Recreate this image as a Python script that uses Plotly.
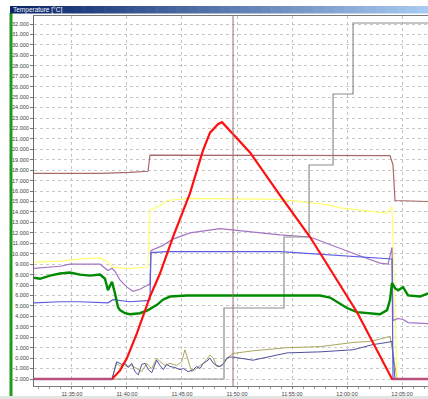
import pandas as pd
import plotly.graph_objects as go

# ---- data (time = minutes after 11:35:00) ----
BASE = pd.Timestamp("2024-01-01 11:35:00")

step_t = [-3.45, 13.82, 19.27, 21.55, 23.73, 25.55, 32.36]
step_v = [-2.0, 4.8, 11.6, 18.5, 25.3, 32.1, 32.1]

red_t = [-3.45, 3.64, 4.36, 5.0, 5.91, 6.64, 7.09, 8.0, 9.18, 10.73, 11.91, 12.55, 13.27, 13.64,
         14.82, 16.18, 18.91, 21.64, 25.91, 27.73, 29.09, 32.36]
red_v = [-2.0, -2.0, -1.2, 0.0, 2.4, 4.6, 5.9, 8.1, 11.6, 15.8, 19.9, 21.6, 22.4, 22.6,
         21.3, 19.7, 15.6, 11.6, 4.4, 0.8, -2.0, -2.0]

brown_t = [-3.45, 2.55, 5.27, 6.91, 7.09, 28.91, 29.18, 29.36, 32.36]
brown_v = [17.7, 17.7, 17.8, 17.9, 19.45, 19.4, 18.5, 15.1, 15.0]

yellow_t = [-3.45, -1.09, 0.73, 2.55, 3.27, 3.73, 5.09, 6.91, 7.09, 8.0, 8.64, 10.73, 18.91, 23.18,
            24.36, 28.64, 29.09, 29.18, 29.55, 32.36]
yellow_v = [9.2, 9.3, 9.5, 9.6, 9.2, 8.7, 8.6, 8.7, 14.2, 14.6, 15.1, 15.3, 15.2, 14.7,
            14.4, 13.9, 14.5, 11.0, -2.0, -2.0]

purple_t = [-3.45, -1.09, -0.18, 2.55, 3.27, 3.64, 3.91, 4.36, 5.0, 5.55, 6.18, 6.82, 7.09, 7.18,
            8.27, 9.18, 10.73, 13.45, 15.91, 18.91, 21.64, 24.09, 25.91, 28.0, 28.73, 29.09,
            29.18, 29.64, 30.09, 30.55, 31.64, 32.36]
purple_v = [8.6, 8.8, 9.0, 9.0, 8.4, 8.6, 8.3, 7.5, 6.8, 6.4, 6.6, 6.9, 7.1, 10.3,
            10.8, 11.4, 12.0, 12.4, 12.1, 11.8, 11.6, 10.6, 9.9, 9.1, 9.0, 10.6,
            3.6, 3.8, 3.7, 3.4, 3.3, 3.3]

blue_t = [-3.45, -1.09, 0.73, 3.27, 3.73, 5.27, 6.82, 7.09, 7.18, 8.64, 18.91, 23.45, 26.45,
          28.64, 29.09, 29.18, 32.36]
blue_v = [5.3, 5.4, 5.4, 5.3, 5.6, 5.4, 5.5, 5.6, 10.1, 10.2, 10.2, 9.9, 9.7,
          9.6, 9.5, -2.0, -2.0]

green_t = [-3.45, -2.91, -2.0, -1.09, -0.18, 0.73, 1.64, 2.55, 3.0, 3.18, 3.27, 3.45, 3.64,
           3.91, 4.18, 4.36, 4.82, 5.27, 6.18, 6.91, 7.73, 8.27, 8.91, 10.45, 18.91, 22.55,
           23.45, 24.18, 25.0, 25.91, 27.36, 28.0, 28.64, 28.91, 29.09, 29.36, 29.64, 30.09,
           30.55, 31.64, 32.36]
green_v = [7.7, 7.6, 7.9, 8.1, 8.2, 8.0, 7.9, 8.0, 7.6, 6.8, 6.5, 6.9, 7.3,
           6.2, 4.9, 4.6, 4.3, 4.2, 4.3, 4.6, 5.1, 5.6, 5.9, 6.0, 6.0, 6.0,
           5.8, 5.3, 4.8, 4.4, 4.3, 4.2, 4.6, 5.6, 7.2, 6.7, 6.5, 6.8,
           6.0, 5.9, 6.2]

navy_t = [-3.45, 3.64, 4.06, 4.52, 4.82, 5.12, 5.43, 5.73, 6.03, 6.34, 6.64, 6.94, 7.25, 7.70,
          8.0, 8.30, 8.61, 8.91, 9.36, 9.82, 10.12, 10.57, 11.03, 11.34, 11.64, 11.94, 12.25,
          12.55, 12.85, 13.15, 13.45, 13.75, 14.06, 14.36, 14.66, 16.45, 19.55, 22.55, 25.55,
          27.36, 28.64, 29.09, 29.36, 32.36]
navy_v = [-2.0, -2.0, -0.35, -0.6, -0.5, -0.9, -0.5, -1.3, -1.6, -0.6, -0.5, -1.1, -1.4, -0.2,
          -0.7, -1.1, -0.6, -0.8, -0.9, -1.1, -1.0, -1.3, -1.1, -0.8, -1.0, -0.5, -0.3,
          0.0, -0.5, -0.7, -0.8, -0.6, 0.0, 0.1, 0.1, -0.2, 0.5, 0.6, 0.8,
          1.3, 1.5, 1.6, -2.0, -2.0]

olive_t = [-3.45, 3.64, 4.06, 4.36, 4.66, 4.97, 5.43, 5.88, 6.34, 6.79, 7.25, 7.70, 8.0, 8.45,
           8.91, 9.52, 9.97, 10.27, 10.57, 10.88, 11.18, 11.64, 12.09, 12.55, 12.85, 13.15,
           13.45, 13.91, 14.21, 14.66, 16.45, 19.55, 22.55, 25.55, 27.09, 28.64, 28.91, 29.55,
           32.36]
olive_v = [-2.0, -2.0, -0.5, -0.8, -0.5, -0.8, -0.7, -1.0, -1.3, -0.5, -1.0, 0.0, -0.35, -0.7,
           -0.5, -0.7, -0.35, 0.8, -0.2, -1.3, -1.1, -0.7, -0.35, 0.3, 0.0, -0.8,
           -0.8, -0.35, 0.1, 0.45, 0.7, 1.0, 1.1, 1.5, 1.6, 2.0, 2.1, -2.0,
           -2.0]

mauve_t = [-3.45, 3.64, None, 29.18, 32.36]
mauve_v = [-2.0, -2.0, None, -2.0, -2.0]

cursor_t = 14.64

y_ticks = list(range(-2, 33))
x_ticks = [0, 5, 10, 15, 20, 25, 30]
x_range = [-3.45, 32.36]
y_range = [-2.67, 32.77]


def tt(arr):
    return [None if a is None else BASE + pd.Timedelta(minutes=a) for a in arr]


fig = go.Figure()


def add(t, v, color, width, shape="linear"):
    fig.add_trace(go.Scatter(x=tt(t), y=v, mode="lines", connectgaps=False,
                             line=dict(color=color, width=width, shape=shape),
                             hoverinfo="skip", showlegend=False))


add(olive_t, olive_v, "#a8a85c", 1)
add(navy_t, navy_v, "#50509c", 1)
add(yellow_t, yellow_v, "#ffff70", 1.2)
add(brown_t, brown_v, "#a86a6a", 1.2)
add(purple_t, purple_v, "#a474c4", 1.2)
add(blue_t, blue_v, "#5c5ce0", 1.2)
add(step_t, step_v, "#8c8c8c", 1.2, "hv")
add(green_t, green_v, "#008a00", 2.4)
add(red_t, red_v, "#ff1010", 2.2)
add(mauve_t, mauve_v, "#b8507e", 2.4)

PL, PT, PB = 34, 16, 13
W, H = 428, 399
pw, ph = W - PL, H - PT - PB


def px(x):
    return (x - PL) / pw


def py(y):
    return (H - PB - y) / ph


shapes = []
# cursor line
shapes.append(dict(type="line", xref="x", yref="paper", x0=BASE + pd.Timedelta(minutes=cursor_t),
                   x1=BASE + pd.Timedelta(minutes=cursor_t), y0=0, y1=1,
                   line=dict(color="#a06a74", width=1), layer="above"))
# left green bar
shapes.append(dict(type="rect", xref="paper", yref="paper", x0=px(9.5), x1=px(12.5),
                   y0=py(396), y1=py(13), fillcolor="#1f9a1f", line=dict(width=0), layer="above"))
# title bar gradient
c0 = (10, 36, 106)
c1 = (166, 202, 240)
n = 40
x_start, x_end = 10, 428
for i in range(n):
    f = i / (n - 1)
    col = "rgb(%d,%d,%d)" % tuple(int(c0[k] + (c1[k] - c0[k]) * f) for k in range(3))
    xa = x_start + (x_end - x_start) * i / n
    xb = x_start + (x_end - x_start) * (i + 1) / n + 0.5
    shapes.append(dict(type="rect", xref="paper", yref="paper", x0=px(xa), x1=px(xb),
                       y0=py(13.5), y1=py(6), fillcolor=col, line=dict(width=0), layer="above"))
# bottom strip
shapes.append(dict(type="rect", xref="paper", yref="paper", x0=px(0), x1=1,
                   y0=py(399), y1=py(396), fillcolor="#e4e4e4", line=dict(width=0), layer="above"))

fig.update_layout(
    width=W, height=H,
    margin=dict(l=PL, r=0, t=PT, b=PB, pad=0, autoexpand=False),
    paper_bgcolor="white", plot_bgcolor="white",
    shapes=shapes,
    annotations=[dict(text="Temperature [°C]", xref="paper", yref="paper", x=px(11), y=py(9.8),
                      xanchor="left", yanchor="middle", showarrow=False,
                      font=dict(family="Liberation Sans", size=6.5, color="white"))],
    font=dict(family="Liberation Sans", size=5.5, color="#404040"),
)
fig.update_xaxes(
    type="date", range=tt(x_range), automargin=False,
    tickvals=tt(x_ticks), tickformat="%H:%M:%S",
    showgrid=True, gridcolor="#c4c4c4", griddash="dot", gridwidth=1,
    showline=True, linecolor="#7a7a7a", linewidth=1, mirror=True,
    ticks="outside", ticklen=2, tickcolor="#7a7a7a",
    minor=dict(dtick=60000, ticks="outside", ticklen=2, tickcolor="#9a9a9a", showgrid=False),
    tickfont=dict(size=5.5), zeroline=False,
)
fig.update_yaxes(
    range=y_range, tickvals=y_ticks, tickformat=".3f", automargin=False,
    showgrid=True, gridcolor="#c8c8c8", griddash="dot", gridwidth=1,
    showline=True, linecolor="#6a6a6a", linewidth=1,
    ticks="outside", ticklen=3, tickcolor="#7a7a7a",
    tickfont=dict(size=5.5), zeroline=False,
)

fig.write_html("out.html", config={"displayModeBar": False},
               post_script="document.body.style.margin='0';document.body.style.overflow='hidden';")
